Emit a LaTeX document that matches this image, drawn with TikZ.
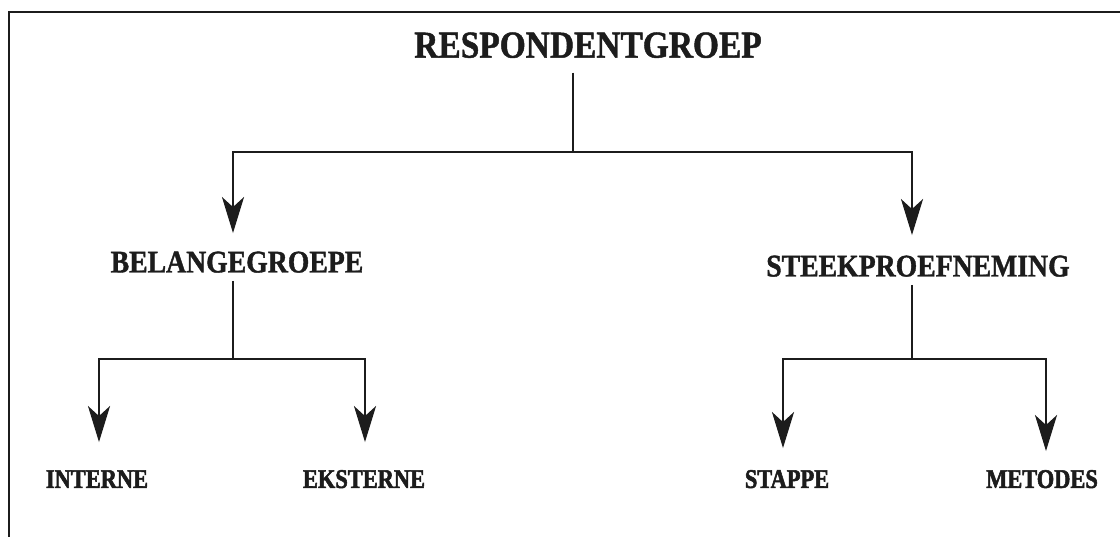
\documentclass[tikz,border=0pt]{standalone}
\usepackage{fontspec}
\usetikzlibrary{arrows.meta,calc}
\newfontfamily\hdfont[FakeStretch=0.88,FakeBold=1.2]{Liberation Serif}
\newfontfamily\lowfont[FakeStretch=0.83,FakeBold=2]{Liberation Serif}
\definecolor{ink}{HTML}{1C1C1C}
\begin{document}
\begin{tikzpicture}[x=1pt,y=-1pt,
  ln/.style={draw=ink,line width=2.7pt},
  arr/.style={ln,-{Stealth[length=36pt,width=22pt,inset=10pt]}},
  lbl/.style={inner sep=0pt,outer sep=0pt,text depth=0pt,text=ink},
  top/.style={lbl,font=\hdfont\bfseries\fontsize{38}{40}\selectfont,text height=25.2pt},
  mid/.style={lbl,font=\hdfont\bfseries\fontsize{31.5}{34}\selectfont,text height=20.9pt},
  low/.style={lbl,font=\lowfont\bfseries\fontsize{27}{29}\selectfont,text height=17.9pt}]
\useasboundingbox (0,0) rectangle (1120,536);
\fill[white] (0,0) rectangle (1120,536);
% frame
\draw[draw=ink,line width=2.8pt] (9,545) -- (9,12) -- (1120,12);
% nodes
\node[top] (resp) at (588,45) {RESPONDENTGROEP};
\node[mid] (bel) at (237,262) {BELANGEGROEPE};
\node[mid] (stk) at (918,266) {STEEKPROEFNEMING};
\node[low] (int) at (97,479) {INTERNE};
\node[low] (eks) at (364,479) {EKSTERNE};
\node[low] (stp) at (787,479) {STAPPE};
\node[low] (met) at (1042,479) {METODES};
% junctions
\coordinate (h0) at (573,152);
\coordinate (h1) at (233,359);
\coordinate (h2) at (912,359);
% connectors
\draw[ln] (resp.south -| h0) ++(0,15) -- (h0);
\draw[arr,shorten >=18.5pt] (h0) -| ([xshift=-4pt]bel.north);
\draw[arr,shorten >=20.5pt] (h0) -| ([xshift=-6pt]stk.north);
\draw[ln,shorten <=8.5pt] ([xshift=-4pt]bel.south) -- (h1);
\draw[arr,shorten >=28pt] (h1) -| ([xshift=2pt]int.north);
\draw[arr,shorten >=28pt] (h1) -| ([xshift=1pt]eks.north);
\draw[ln,shorten <=8.5pt] ([xshift=-6pt]stk.south) -- (h2);
\draw[arr,shorten >=22pt] (h2) -| ([xshift=-4pt]stp.north);
\draw[arr,shorten >=19pt] (h2) -| ([xshift=4pt]met.north);
\end{tikzpicture}
\end{document}
